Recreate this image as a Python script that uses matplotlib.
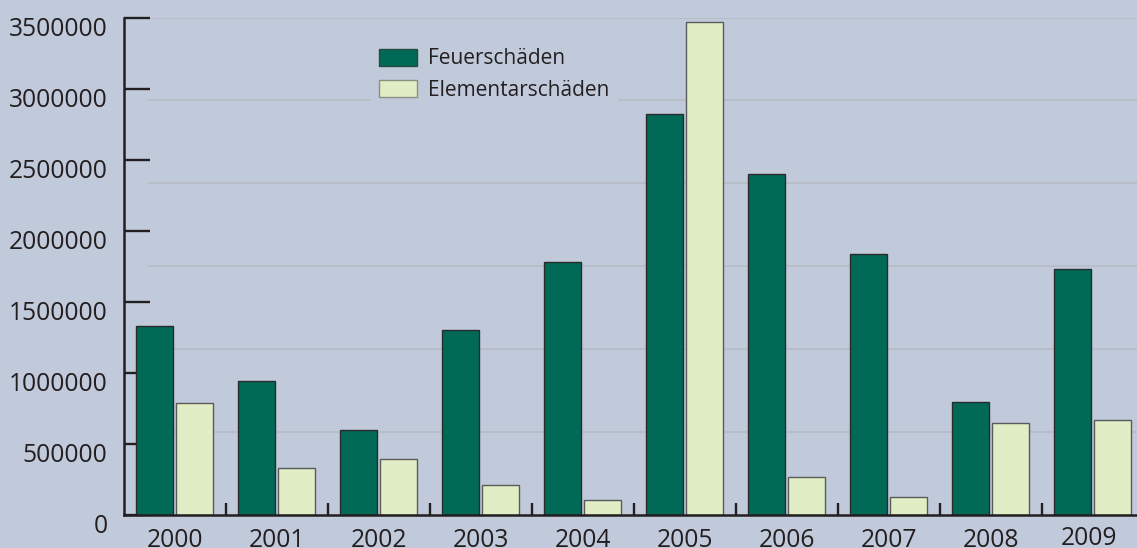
import matplotlib
matplotlib.use('Agg')
import matplotlib.pyplot as plt
import numpy as np
from matplotlib.transforms import ScaledTranslation
from matplotlib.patches import Patch

years = ['2000', '2001', '2002', '2003', '2004', '2005', '2006', '2007', '2008', '2009']
feuer = [1325000, 942000, 597000, 1297000, 1781000, 2818000, 2400000, 1833000, 792000, 1727000]
element = [787000, 326000, 390000, 209000, 101000, 3466000, 261000, 122000, 641000, 665000]
yticks = [0, 500000, 1000000, 1500000, 2000000, 2500000, 3000000, 3500000]
series_labels = ['Feuerschäden', 'Elementarschäden']

plt.rcParams['font.family'] = ['Open Sans', 'DejaVu Sans']
BG = '#c1cadb'
DARK = '#006a57'
LIGHT = '#e1edc5'
INK = '#231f20'

W, H = 1137, 548
fig = plt.figure(figsize=(W / 100, H / 100), dpi=100, facecolor=BG)
left_px, base_px, top_px = 123.5, 514.5, 17.5
ax = fig.add_axes([left_px / W, (H - base_px) / H, 1 - left_px / W, (base_px - top_px) / H])
ax.set_facecolor(BG)

x = np.arange(len(years))
w = 0.363
ax.bar(x - 0.2, feuer, w, color=DARK, edgecolor='#2a2a2a', linewidth=1.0, zorder=3)
ax.bar(x + 0.2, element, w, color=LIGHT, edgecolor='#5a5a5a', linewidth=1.0, zorder=3)

ax.set_xlim(-0.5, -0.5 + (W - left_px) / 102)
ax.set_ylim(0, yticks[-1])

# background grid lines (6 equal divisions)
for k in range(1, 7):
    ax.axhline(yticks[-1] * k / 6, xmin=24.5 / (W - left_px), color='#b7bbc4', lw=1.2, zorder=1)

for s in ['top', 'right']:
    ax.spines[s].set_visible(False)
for s in ['left', 'bottom']:
    ax.spines[s].set_linewidth(1.8)
    ax.spines[s].set_color(INK)
    ax.spines[s].set_zorder(4)

ax.set_yticks(yticks)
ax.set_yticklabels([str(v) for v in yticks])
ax.tick_params(axis='y', direction='in', length=18.7, width=1.7, color=INK,
               labelsize=17.7, labelcolor=INK, pad=11.5)
ax.set_xticks(x)
ax.set_xticklabels(years)
ax.set_xticks(x[:-1] + 0.5, minor=True)
ax.tick_params(axis='x', which='major', length=0, labelsize=17.7, labelcolor=INK, pad=10)
ax.tick_params(axis='x', which='minor', direction='in', length=8.6, width=1.7, color=INK)

for lbl in ax.get_yticklabels():
    lbl.set_transform(lbl.get_transform() + ScaledTranslation(0, -9 / 100, fig.dpi_scale_trans))
xl = ax.get_xticklabels()
xl[-1].set_transform(xl[-1].get_transform() + ScaledTranslation(-4 / 100, 2 / 100, fig.dpi_scale_trans))

handles = [Patch(facecolor=DARK, edgecolor='#2a4a40', lw=1.0),
           Patch(facecolor=LIGHT, edgecolor='#8a8f80', lw=1.0)]
leg = ax.legend(handles, series_labels, loc='upper left',
                bbox_to_anchor=(371 / W, 1 - 40 / H), bbox_transform=fig.transFigure,
                frameon=True, facecolor=BG, edgecolor='none', framealpha=1, fancybox=False,
                fontsize=15, handlelength=1.83, handleheight=0.89, handletextpad=0.53,
                labelspacing=0.5, borderpad=0.4, borderaxespad=0)
for t in leg.get_texts():
    t.set_color(INK)
leg.set_zorder(5)

fig.savefig('out.png', dpi=100, facecolor=BG)
